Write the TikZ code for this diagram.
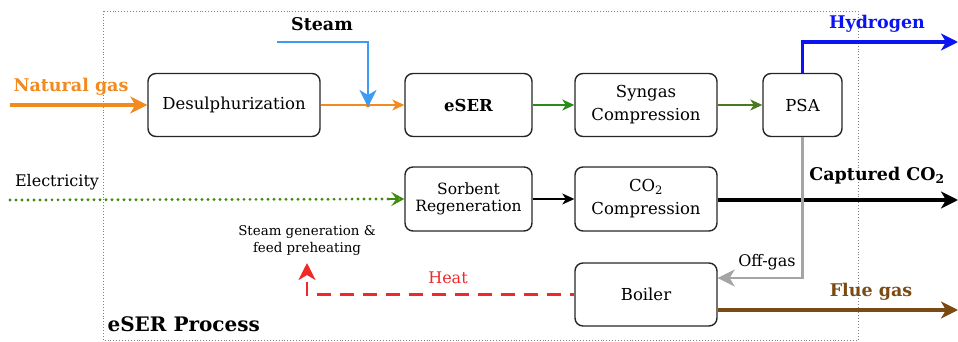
\documentclass[tikz,border=0pt]{standalone}
\usepackage{fontspec}
\setmainfont{DejaVu Serif}
\usetikzlibrary{arrows.meta}

\definecolor{ngorange}{HTML}{F28A1E}
\definecolor{steamblue}{HTML}{3D9BF5}
\definecolor{hydroblue}{HTML}{0A14F0}
\definecolor{syngreen}{HTML}{2A8A1A}
\definecolor{psagreen}{HTML}{4A7A1E}
\definecolor{elecgreen}{HTML}{3E8C10}
\definecolor{offgray}{HTML}{A5A5A5}
\definecolor{fluebrown}{HTML}{7A4A12}
\definecolor{heatred}{HTML}{F02828}

\tikzset{
  unit/.style={draw=black!85, line width=1.4pt, rounded corners=8pt,
    minimum height=63pt, align=center, inner sep=2pt,
    font=\fontsize{16.5}{23}\selectfont},
  flow/.style={-{Stealth[length=17pt,width=17pt,inset=5pt]}},
  thinflow/.style={-{Stealth[length=12pt,width=11pt,inset=3.5pt]}, line width=1.5pt},
  streamlbl/.style={font=\fontsize{17.5}{20}\selectfont\bfseries},
  plainlbl/.style={font=\fontsize{16}{18}\selectfont},
}

\begin{document}
\begin{tikzpicture}[x=1pt,y=-1pt]
\useasboundingbox (0,0) rectangle (958,342);

% Process boundary
\draw[dotted, gray, line width=0.9pt] (103,11) rectangle (858,340);
\node[anchor=west, font=\fontsize{20}{22}\selectfont\bfseries] (proc) at (104,324) {eSER Process};

% Units
\node[unit, minimum width=172pt] (desul) at (234,105) {Desulphurization};
\node[unit, minimum width=127pt, font=\fontsize{16.5}{23}\selectfont\bfseries] (eser) at (468.5,105) {eSER};
\node[unit, minimum width=142pt] (syngas) at (646,105) {Syngas\\Compression};
\node[unit, minimum width=79pt] (psa) at (802.5,105) {PSA};
\node[unit, minimum width=127pt, minimum height=64pt, font=\fontsize{15.5}{17}\selectfont] (sorbent) at (468.5,199) {Sorbent\\Regeneration};
\node[unit, minimum width=142pt, minimum height=64pt] (co2comp) at (646,199) {CO\textsubscript{2}\\Compression};
\node[unit, minimum width=142pt] (boiler) at (646,294.5) {Boiler};

% Free ends
\coordinate (ngin) at (10,105);
\coordinate (steamin) at (277,42);
\coordinate (mix) at (368,105);
\coordinate (h2out) at (958,42);
\coordinate (elecin) at (10,200);
\coordinate (co2out) at (958,200);
\coordinate (flueout) at (958,310);
\coordinate (heatend) at (307,263);

% Natural gas and steam
\draw[flow, ngorange, line width=3.2pt] (ngin) -- (desul.west);
\node[streamlbl, text=ngorange] (nglbl) at (71,87) {Natural gas};
\draw[thinflow, ngorange, line width=1.2pt] (desul.east) -- (eser.west);
\fill[ngorange] (mix) circle (2.4pt);
\draw[flow, steamblue, line width=2.8pt] (steamin) -| ([yshift=-2pt]mix);
\node[streamlbl] (steamlbl) at (322,24) {Steam};

% Syngas line
\draw[thinflow, syngreen] (eser.east) -- (syngas.west);
\draw[thinflow, psagreen] (syngas.east) -- (psa.west);
\draw[flow, hydroblue, line width=3.2pt] (psa.north) |- (h2out);
\node[streamlbl, text=hydroblue] (h2lbl) at (877,24) {Hydrogen};

% Electricity and CO2
\draw[elecgreen, line width=3.2pt, line cap=round, dash pattern=on 0pt off 6pt] (elecin) -- ([xshift=-14pt]sorbent.west);
\draw[-{Stealth[length=13pt,width=14pt,inset=5pt,open]}, elecgreen, line width=2.4pt] ([xshift=-15pt]sorbent.west) -- (sorbent.west);
\node[plainlbl] (eleclbl) at (57,182) {Electricity};
\draw[thinflow, black] (sorbent.east) -- (co2comp.west);
\draw[flow, black, line width=3.2pt] (co2comp.east |- co2out) -- (co2out);
\node[streamlbl] (co2lbl) at (877,176) {Captured CO\textsubscript{2}};

% Off-gas, flue gas and heat
\draw[flow, offgray, line width=2.4pt] (psa.south) |- (boiler.east |- 0,278);
\node[plainlbl] (offlbl) at (767,262) {Off-gas};
\draw[flow, fluebrown, line width=3.2pt] (boiler.east |- flueout) -- (flueout);
\node[streamlbl, text=fluebrown] (fluelbl) at (871,292) {Flue gas};
\draw[flow, heatred, line width=2.8pt, dash pattern=on 14pt off 9pt, dash phase=10pt] (boiler.west) -| (heatend);
\node[plainlbl, text=heatred] (heatlbl) at (448,278) {Heat};
\node[align=center, font=\fontsize{13.4}{17}\selectfont] (uselbl) at (307,241) {Steam generation \&\\feed preheating};
\end{tikzpicture}
\end{document}
